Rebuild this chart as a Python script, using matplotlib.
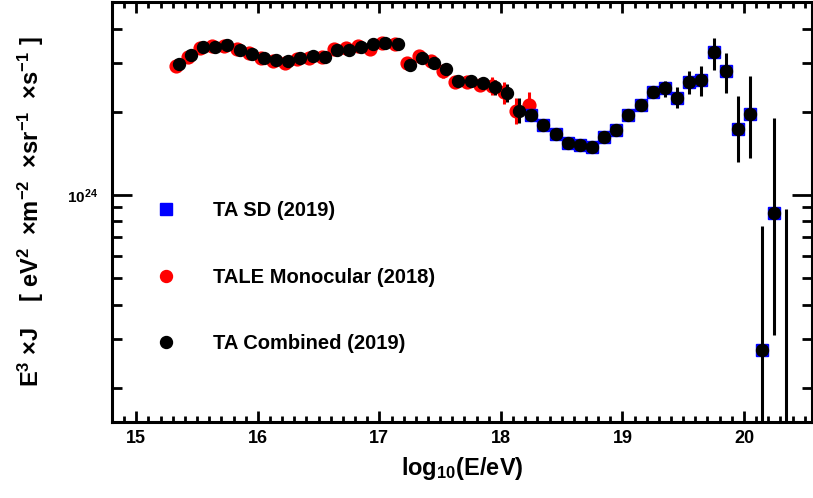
import matplotlib
matplotlib.use('Agg')
import matplotlib.pyplot as plt
import numpy as np
from matplotlib.lines import Line2D
from matplotlib.ticker import MultipleLocator, FixedLocator, LogLocator, NullFormatter

plt.rcParams['font.family'] = ['Liberation Sans', 'DejaVu Sans']
plt.rcParams['font.weight'] = 'bold'
plt.rcParams['mathtext.fontset'] = 'custom'
plt.rcParams['mathtext.rm'] = 'Liberation Sans:bold'
plt.rcParams['mathtext.bf'] = 'Liberation Sans:bold'
plt.rcParams['mathtext.it'] = 'Liberation Sans:bold'
plt.rcParams['mathtext.default'] = 'bf'

# flux values below are in units of 1e24 eV^2 m^-2 sr^-1 s^-1

# TALE monocular (2018)
tale_x = [15.325, 15.425, 15.525, 15.625, 15.725, 15.825, 15.925, 16.025, 16.125, 16.225,
          16.325, 16.425, 16.525, 16.625, 16.725, 16.825, 16.925, 17.025, 17.125, 17.225,
          17.325, 17.425, 17.525, 17.625, 17.725, 17.825, 17.925, 18.025, 18.125, 18.235]
tale_y = [2.93, 3.15, 3.40, 3.45, 3.47, 3.38, 3.26, 3.13, 3.05, 3.00,
          3.10, 3.14, 3.17, 3.38, 3.40, 3.47, 3.38, 3.55, 3.52, 3.00,
          3.18, 3.05, 2.80, 2.56, 2.57, 2.50, 2.47, 2.36, 2.02, 2.12]
tale_lo = [0, 0, 0, 0, 0, 0, 0, 0, 0, 0,
           0, 0, 0, 0, 0, 0, 0, 0, 0, 0,
           0, 0, 0.15, 0, 0, 0, 0.17, 0.22, 0.21, 0.23]
tale_hi = [0, 0, 0, 0, 0, 0, 0, 0, 0, 0,
           0, 0, 0, 0, 0, 0, 0, 0, 0, 0,
           0, 0, 0.13, 0, 0, 0, 0.20, 0.21, 0.22, 0.24]

# TA combined (2019)
comb_x = [15.35, 15.45, 15.55, 15.65, 15.75, 15.85, 15.95,
          16.05, 16.15, 16.25, 16.35, 16.45, 16.55, 16.65, 16.75, 16.85, 16.95,
          17.05, 17.15, 17.25, 17.35, 17.45, 17.55, 17.65, 17.75, 17.85, 17.95,
          18.05, 18.15, 18.25, 18.35, 18.45, 18.55, 18.65, 18.75, 18.85, 18.95,
          19.05, 19.15, 19.25, 19.35, 19.45, 19.55, 19.65, 19.75, 19.85, 19.95,
          20.05, 20.15, 20.25, 20.35]
comb_y = [2.99, 3.21, 3.44, 3.43, 3.48, 3.36, 3.25,
          3.14, 3.09, 3.05, 3.13, 3.18, 3.16, 3.35, 3.35, 3.44, 3.51,
          3.56, 3.51, 2.96, 3.12, 3.01, 2.85, 2.58, 2.58, 2.54, 2.45,
          2.33, 2.02, 1.94, 1.79, 1.66, 1.54, 1.51, 1.49, 1.62, 1.72,
          1.95, 2.12, 2.36, 2.43, 2.25, 2.56, 2.61, 3.28, 2.80, 1.73,
          1.96, 0.273, 0.861, 0.10]
comb_lo = [0, 0, 0, 0, 0, 0, 0,
           0, 0, 0, 0, 0, 0, 0, 0, 0, 0,
           0, 0, 0, 0, 0, 0, 0, 0, 0, 0.15,
           0.16, 0.20, 0, 0, 0, 0, 0, 0, 0, 0,
           0.05, 0.06, 0.08, 0.16, 0.18, 0.25, 0.32, 0.44, 0.47, 0.42,
           0.60, 0.273, 0.55, 0.10]
comb_hi = [0, 0, 0, 0, 0, 0, 0,
           0, 0, 0, 0, 0, 0, 0, 0, 0, 0,
           0, 0, 0, 0, 0, 0, 0, 0, 0, 0.16,
           0.19, 0.22, 0, 0, 0, 0, 0, 0, 0, 0,
           0.05, 0.06, 0.08, 0.16, 0.20, 0.24, 0.31, 0.43, 0.47, 0.56,
           0.73, 0.496, 1.03, 0.79]

# TA SD (2019)
sd_x = [18.25, 18.35, 18.45, 18.55, 18.65, 18.75, 18.85, 18.95,
        19.05, 19.15, 19.25, 19.35, 19.45, 19.55, 19.65, 19.75, 19.85, 19.95,
        20.05, 20.15, 20.25, 20.35]
sd_y = [1.94, 1.79, 1.66, 1.54, 1.51, 1.49, 1.62, 1.72,
        1.95, 2.12, 2.36, 2.43, 2.25, 2.56, 2.61, 3.28, 2.80, 1.73,
        1.96, 0.273, 0.861, 0.10]

scale = 1e24

W, H = 813, 498
fig = plt.figure(figsize=(W / 100, H / 100), dpi=100)
ax = fig.add_axes([112 / W, 1 - 422 / H, (812 - 112) / W, (422 - 2) / H])
ax.set_yscale('log')

ms = 8.6
ax.errorbar(tale_x, np.array(tale_y) * scale,
            yerr=[np.array(tale_lo) * scale, np.array(tale_hi) * scale],
            fmt='o', color='red', ms=9.2, mec='red', elinewidth=2.2, capsize=0, zorder=2)
ax.plot(sd_x, np.array(sd_y) * scale, 's', color='blue', ms=9.2, mec='blue', zorder=3)
ax.errorbar(comb_x, np.array(comb_y) * scale,
            yerr=[np.array(comb_lo) * scale, np.array(comb_hi) * scale],
            fmt='o', color='black', ms=ms, mec='black', elinewidth=2.2, capsize=0, zorder=4)

ax.set_xlim(14.8, 20.56)
ax.set_ylim(1.5e23, 5e24)

for sp in ax.spines.values():
    sp.set_linewidth(2.2)

ax.xaxis.set_major_locator(MultipleLocator(1))
ax.xaxis.set_minor_locator(MultipleLocator(0.1))
ax.yaxis.set_major_locator(FixedLocator([1e24]))
ax.yaxis.set_minor_locator(LogLocator(base=10, subs=np.arange(2, 10)))
ax.yaxis.set_minor_formatter(NullFormatter())
ax.set_yticklabels([r'$10^{24}$'])

ax.tick_params(axis='x', which='major', direction='in', length=8, width=2,
               top=True, bottom=True, labelsize=13, pad=5.5)
ax.tick_params(axis='x', which='minor', direction='in', length=4.3, width=2,
               top=True, bottom=True)
ax.tick_params(axis='y', which='major', direction='in', length=14.4, width=2,
               left=True, right=True, labelsize=11, pad=10)
ax.tick_params(axis='y', which='minor', direction='in', length=7.2, width=2,
               left=True, right=True)

ax.set_xlabel(r'log$_{10}$(E/eV)', fontsize=17, fontweight='bold', labelpad=6)
ax.set_ylabel(r'E$^{3}$ $\times$J    [ eV$^{2}$  $\times$m$^{-2}$  $\times$sr$^{-1}$  $\times$s$^{-1}$ ]',
              fontsize=17, fontweight='bold', labelpad=15)

handles = [
    Line2D([], [], marker='s', color='blue', ls='none', ms=9),
    Line2D([], [], marker='o', color='red', ls='none', ms=ms),
    Line2D([], [], marker='o', color='black', ls='none', ms=ms),
]
labels = ['TA SD (2019)', 'TALE Monocular (2018)', 'TA Combined (2019)']
ax.legend(handles, labels, loc='upper left', bbox_to_anchor=(156 / W, 1 - 201 / H),
          bbox_transform=fig.transFigure, frameon=False, fontsize=14.5,
          handlelength=1.0, handletextpad=1.85, labelspacing=2.37, borderpad=0,
          borderaxespad=0)

fig.savefig('out.png', dpi=100)
